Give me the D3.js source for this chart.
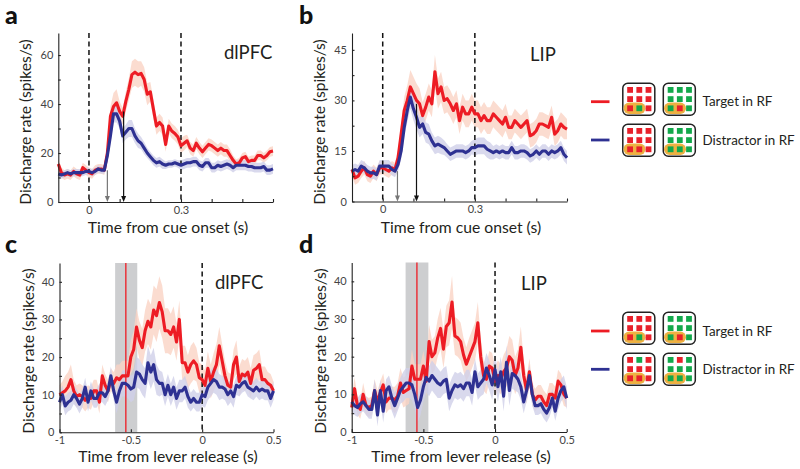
<!DOCTYPE html>
<html><head><meta charset="utf-8">
<script src="https://cdn.jsdelivr.net/npm/d3@7"></script>
<style>
html,body{margin:0;padding:0;background:#fff}
svg{display:block}
text{font-family:"Lato",sans-serif;fill:#231f20}
</style></head><body><svg id="c" width="800" height="469"></svg>
<script>
const aRed=[15.5,12,11,11.5,11,12.5,11.5,11,14,13,
12,11.5,13,13.5,13.5,13,20,35,39,40.5,
37,35,41,46,52,53,52,52.5,50,44,
45,38,31,32.5,31,23.5,31,29,28,26.5,
23,24,25,22,21,24,22,20.5,22,23.5,
23,22,21,22,21,21,19,17,15.5,16,
18,18.5,16.5,17,17,19,19,18,19,20.5,20.8];
const aBlue=[11.5,11,11.5,12,11.5,12,12,12,12,12.5,
12.5,12,12.5,13.5,13,13,19,27,36,36,
33,27,28.5,30,30,27,25,24,22,20,
18.5,17,16,16.5,15.5,15,15.5,15.5,16,15.5,
15,15.5,16,16,16.5,16.5,15,14.5,16,16,
14,14,15,14.5,15,15.5,15,14,15,15,
15,15,14.5,14.5,14,14,14,14.5,13,13,13.5];
const aRedErr=[2,2,2,2,2,2,2,2,2,2,
2,2,2,2,2,2,2.5,4,5.5,5.5,
4,3.5,4,4.5,5.5,5.5,5.5,5,5,4.5,
4,4,3.5,3.5,3.5,3,3,3,3,3,
3,3,2.5,2.5,2.5,2.5,2.5,2.5,2.5,2.5,
2.5,2.5,2.5,2.5,2.5,2.5,2.5,2,2,2,
2,2,2,2,2,2,2,2,2,2,2];
const aBlueErr=[1.5,1.5,1.5,1.5,1.5,1.5,1.5,1.5,1.5,1.5,
1.5,1.5,1.5,1.5,1.5,1.5,2,3,3.5,3.5,
3,3,3,3.5,3.5,3,3,2.5,2.5,2,
2,2,2,2,2,1.5,1.5,1.5,1.5,1.5,
2,2,2,2,2,2,2,2,2,2,
2,2,2,2,2,2,2,2,2,2,
2,2,2,2,2,2,2,2,2,2,2];
const bRed=[9.5,7,7.5,9,10,8,7.5,9,8,10,
10,9.5,9,10,9.5,13,20,27,30,34,
32,30,29,25.5,28,31,29,38.5,32,34,
30,30.5,29,27,29,24,28,26,26,28,
26,26,24,25.5,24,24,26,25,24,23,
25,22,22,24,23,22,23,24,19.5,20,
21,23,23,22.5,22,25,20,21,23,22,21.5];
const bBlue=[9,9.5,9,10.5,10,9,8.5,8.5,8,10.5,
10.5,10.5,10.5,9.5,9,11,15,22,27,31,
27.5,25,22,23,20.5,20,18,16.5,17,16.5,
16,15,14,14.5,15,15,15,14.5,15,16,
16,16.5,16.5,16.5,15.5,15,14.5,15,14.5,15,
14.5,14.5,16,14.5,14.5,15,15,14.5,13.5,14,
15,14,15,15,14,15,14.5,15,16,14,13];
const bRedErr=[2,2,2,2,2,2,2,2,2,2,
2,2,2,2,2,2.5,3,4,4.5,5,
5,5,4.5,4,4,4,4,5,4.5,4.5,
4,4,4,4,4,4,4,4,4,4,
4,4,4,4,4,4,4,4,4,4,
4,3.5,3.5,3.5,3.5,3.5,3.5,3.5,3.5,3.5,
3.5,3.5,3.5,3.5,3.5,3.5,3.5,3.5,3.5,3.5,3];
const bBlueErr=[1.8,1.8,1.8,1.8,1.8,1.8,1.8,1.8,1.8,1.8,
1.8,1.8,1.8,1.8,1.8,2,2.5,3,3.5,3.5,
3.5,3.5,3,3,3,3,2.5,2.5,2.5,2.5,
2.2,2,2,2,2,2,2,2,2,2,
2.5,2.5,2.5,2.5,2.5,2.5,2,2,2,2,
2,2,2,2,2,2,2,2,2,2,
2,2,2,2,2,2,2,2,2,2,2];
const cRed=[10,10.5,11,12,14,11,9.5,10,9.5,8.5,
9.5,9,11,11,8,15,12.5,11,14,13,
14.5,14,15,15,15,20,22,28,24.5,22.5,
27,29.5,28,32.5,31,34.5,32,27,27,26,
28,24,30,18.5,18.5,16,18,19,18,14.5,
14,12.5,17,13.5,16,18,23,19,15,12.5,
12,18,20,13.5,15.5,15,16,13,16.5,17,
18,14,14,13,12.5,11];
const cBlue=[8,10,7,8,8.5,10,9,7.5,9,12,
8,11,9,9,10.5,10.5,9.5,11,15,11,
8,11,13,13,12.5,11.5,12,16,15.5,14,
13,18.5,16,18,14,13,13,10,12.5,10,
12,9,11,11,12,9.5,8,9,8,8,
10,9.5,12,13,14,13.5,12,12,11.5,10,
11,9.5,12.5,12,13,13.5,12,11.5,11,12,
11,11.5,11,11,9,11];
const cRedErr=[2.5,3,4,4,4,3,3,3,3,3,
3,3,3,3,3,3,3,3,3,3,
3.5,4,4,4,4,4.5,5,5,5,5,
5.5,6,6,6.5,7,7,7,6,6,5.5,
5.5,5,5,4.5,4.5,4.5,5,5,4.5,4,
4,4,4.5,4.5,5,5.5,5,4.5,4,3.5,
3.5,4,4.5,4,4,4,4,4,4,4,
4,3.5,3.5,3,3,2.5];
const cBlueErr=[2.5,2.5,2.5,2.5,2.5,2.5,2.5,2.5,2.5,2.5,
2.5,2.5,2.5,2.5,2.5,2.5,2.5,2.5,2.5,2.5,
3,3,3.5,3.5,3.5,3.5,3.5,4,4,4,
4,4.5,4.5,4.5,4,3.5,3,3,3,3,
3,3,3,3,3,3,2.5,2.5,2.5,2.5,
3,3,3.5,3.5,3.5,3.5,3.5,3,3,3,
3,3,2.5,2.5,2.5,2.5,2.5,2.5,2.5,2.5,
2.5,2.5,2.5,2.5,2.5,2.5];
const dRed=[6.5,11.5,7,6,10,7,6.5,7,11,8,
10.5,12.5,8,9,9,8.5,9.5,13,10.5,11,
11.5,17.5,14,14,14,17.5,13.5,24,20,21,
25,27.5,22,28,29,34.5,25.5,25,24,20.5,
18,20,22,24,29,20,15,14,17.5,17,
13.5,15,14,16,17,20,19,15,17,22.5,
15,11,16,10,8.5,9.5,9.5,8,7,10,
10,9,13.5,12.5,10,9];
const dBlue=[8,7,6.5,7.5,8,7,6,6,11,4.5,
11,5.5,11,12,9,7,9,11,12,13,
13,12.5,10,6.5,8.5,12,14.5,13.5,15,14,
13,12.5,13.5,14,9,11,12.5,12,12.5,11.5,
13,13,10.5,16,12,13,14,17,15,12.5,
16.5,12,16,9.5,18.5,11,15.5,15,14,12,
8,11,15,10,7,7,7.5,6,5,6.5,
9,5.5,9,11,12,9];
const dRedErr=[2.5,3,2.5,2.5,3,2.5,2.5,2.5,3,3,
3,3,3,3,3,3.5,3.5,4,4,4,
4,4.5,4,4,4,4,4,4.5,4.5,4.5,
5,5.5,5,5.5,6,7,5,5,5,4.5,
4.5,5,5,5,5.5,5,4,4,4,4,
4,4,4,4.5,5,5.5,5.5,5,5,5.5,
4,3.5,3.5,3,3,3,3,3,3,3,
3,3,3,3,3,2.5];
const dBlueErr=[2.5,2.5,2.5,2.5,2.5,2.5,2.5,2.5,3,3,
3,3,3,3,3.5,3.5,3.5,3.5,4,4,
4,4,4,4,4,4,4,4,4,4,
4,3.5,3.5,3.5,3.5,3.5,3.5,3.5,3.5,3.5,
3.5,3.5,3.5,3.5,3.5,3.5,4,4,4,4,
4,4,4,4,4.5,4,4,4,3.5,3.5,
3,3,3,3,2.5,2.5,2.5,2.5,2.5,2.5,
2.5,2.5,3,3,3,3];
const cueTickLabels=[0,0.3];
const releaseTickLabels=[-1,-0.5,0,0.5];
const legendTexts=["Target in RF","Distractor in RF"];
const RED="#ed1c24",BLUE="#2e3192",REDB="#fad3c4",BLUEB="#cfcfe9",GRN="#12a84b",SRED="#e8202a";

const svg=d3.select("#c");
function panel(o){
  const x=d3.scaleLinear().domain(o.xd).range(o.xr);
  const y=d3.scaleLinear().domain(o.yd).range(o.yr);
  const g=svg.append("g");
  const xs=i=>o.x0+i*o.dx;
  if(o.band){
    g.append("rect").attr("x",x(o.band[0])).attr("width",x(o.band[1])-x(o.band[0]))
     .attr("y",y(o.yd[1])).attr("height",y(0)-y(o.yd[1])).attr("fill","#cdced0");
  }
  function ser(v,e,bc,lc){
    g.append("path").datum(v).attr("fill",bc).attr("fill-opacity",.8)
     .attr("d",d3.area().x((d,i)=>x(xs(i))).y0((d,i)=>y(d-e[i])).y1((d,i)=>y(d+e[i])));
    return ()=>g.append("path").datum(v).attr("fill","none").attr("stroke",lc).attr("stroke-width",3.1)
     .attr("stroke-linejoin","round")
     .attr("d",d3.line().x((d,i)=>x(xs(i))).y(d=>y(d)));
  }
  const d1=ser(o.red,o.redErr,REDB,RED), d2=ser(o.blue,o.blueErr,BLUEB,BLUE);
  if(o.band) g.append("line").attr("x1",x(o.mark)).attr("x2",x(o.mark)).attr("y1",y(o.yd[1])).attr("y2",y(0)).attr("stroke",RED).attr("stroke-width",1.3);
  o.dash.forEach(v=>g.append("line").attr("x1",x(v)).attr("x2",x(v)).attr("y1",y(o.yd[1])).attr("y2",y(0))
    .attr("stroke","#111").attr("stroke-width",1.5).attr("stroke-dasharray","5 3.5"));
  d1();d2();
  (o.arrows||[]).forEach(a=>{
    const px=x(a[0]),t=y(a[1]),b=y(0);
    g.append("line").attr("x1",px).attr("x2",px).attr("y1",t).attr("y2",b-3).attr("stroke",a[2]).attr("stroke-width",1.2);
    g.append("path").attr("d",`M${px-2.5},${b-6}L${px+2.5},${b-6}L${px},${b}Z`).attr("fill",a[2]);
  });
  // axes
  const ax=d3.axisBottom(x).tickValues(o.xminor).tickSizeInner(-3).tickSizeOuter(0).tickFormat(d=>o.xlab.includes(d)?String(d):"");
  const ay=d3.axisLeft(y).tickValues(o.yminor).tickSizeInner(-2.5).tickSizeOuter(0).tickFormat(d=>o.ylab.includes(d)?d:"");
  const gx=g.append("g").attr("transform",`translate(0,${y(0)})`).call(ax);
  const gy=g.append("g").attr("transform",`translate(${x(o.xd[0])},0)`).call(ay);
  [gx,gy].forEach(s=>{s.selectAll("path,line").attr("stroke","#222").attr("stroke-width",1.1);
    s.selectAll("text").attr("font-size",11).style("fill","#444").attr("font-family",'"Lato",sans-serif');});
  gx.selectAll("text").attr("y",4).attr("dy","0.71em");
  gy.selectAll("text").attr("x",-5);
  g.append("text").attr("x",o.xlx).attr("y",o.xly).attr("text-anchor","middle").attr("font-size",15.7).text(o.xlabel);
  g.append("text").attr("transform",`translate(${o.ylx},${o.yly}) rotate(-90)`).attr("text-anchor","middle").attr("font-size",15.6).text("Discharge rate (spikes/s)");
  g.append("text").attr("x",o.t[0]).attr("y",o.t[1]).attr("font-size",18.5).text(o.title);
  g.append("text").attr("x",o.l[0]).attr("y",o.l[1]).attr("font-size",25).attr("font-weight",900).style("fill","#111").text(o.letter);
}
const r=(a,b,s)=>d3.range(0,Math.round((b-a)/s)+1).map(i=>+(a+i*s).toFixed(2));
panel({letter:"a",l:[5,24],title:"dlPFC",t:[224,59],xd:[-0.1,0.6],xr:[58.3,273],yd:[0,69],yr:[202,33],x0:-0.1,dx:0.01,
 red:aRed,blue:aBlue,redErr:aRedErr,blueErr:aBlueErr,dash:[0,0.3],arrows:[[0.06,13,"#777"],[0.113,37,"#111"]],
 xminor:r(0,0.6,0.1),xlab:cueTickLabels,yminor:r(0,60,10),ylab:[0,20,40,60],xlabel:"Time from cue onset (s)",xlx:168,xly:233,ylx:31,yly:122});
panel({letter:"b",l:[299,24],title:"LIP",t:[530,61],xd:[-0.1,0.6],xr:[352,567],yd:[0,50],yr:[201.5,33],x0:-0.1,dx:0.01,
 red:bRed,blue:bBlue,redErr:bRedErr,blueErr:bBlueErr,dash:[0,0.3],arrows:[[0.048,9,"#777"],[0.11,29,"#111"]],
 xminor:r(0,0.6,0.1),xlab:cueTickLabels,yminor:r(0,45,7.5),ylab:[0,15,30,45],xlabel:"Time from cue onset (s)",xlx:461,xly:233,ylx:325,yly:122});
panel({letter:"c",l:[5,253],title:"dlPFC",t:[215,289],xd:[-1,0.5],xr:[59.5,273.5],yd:[0,45],yr:[432.3,263],x0:-1,dx:0.02,
 red:cRed,blue:cBlue,redErr:cRedErr,blueErr:cBlueErr,dash:[0],band:[-0.61,-0.455],mark:-0.535,
 xminor:r(-1,0.5,0.5),xlab:releaseTickLabels,yminor:r(0,40,5),ylab:[0,10,20,30,40],xlabel:"Time from lever release (s)",xlx:168,xly:462,ylx:34,yly:351});
panel({letter:"d",l:[299,253],title:"LIP",t:[521,290],xd:[-1,0.5],xr:[351.7,566.7],yd:[0,45],yr:[432,262.5],x0:-1,dx:0.02,
 red:dRed,blue:dBlue,redErr:dRedErr,blueErr:dBlueErr,dash:[0],band:[-0.624,-0.465],mark:-0.545,
 xminor:r(-1,0.5,0.5),xlab:releaseTickLabels,yminor:r(0,40,5),ylab:[0,10,20,30,40],xlabel:"Time from lever release (s)",xlx:461,xly:462,ylx:326,yly:351});

// legends
const iconRows=[[0,1,2],[0,1,2],[0,1,2]];
function icon(px,py,base,odd,oddRow){
  const g=svg.append("g").attr("transform",`translate(${px},${py})`);
  g.append("rect").attr("x",.8).attr("y",.8).attr("width",32).attr("height",32).attr("rx",5).attr("fill","#fff").attr("stroke","#222").attr("stroke-width",1.5);
  g.append("rect").attr("x",1.5).attr("y",20).attr("width",22).attr("height",11.5).attr("rx",5.7).attr("fill","#eeb142");
  iconRows.forEach((cols,row)=>cols.forEach(c=>{
    const isOdd=row===oddRow&&c===1;
    g.append("rect").attr("x",5.2+c*9.2).attr("y",4.5+row*9.2).attr("width",5.8).attr("height",5.8).attr("fill",isOdd?odd:base);
  }));
}
function legend(y1,y2,lr1,lr2,secondOddRow){
  [[lr1,RED],[lr2,BLUE]].forEach(d=>svg.append("line").attr("x1",591).attr("x2",609.5).attr("y1",d[0]).attr("y2",d[0]).attr("stroke",d[1]).attr("stroke-width",2.8));
  icon(622,y1,SRED,GRN,2);icon(662.5,y1,GRN,SRED,2);
  icon(622,y2,SRED,GRN,secondOddRow);icon(662.5,y2,GRN,SRED,secondOddRow);
  svg.append("text").attr("x",702.5).attr("y",lr1+4.5).attr("font-size",13.4).text(legendTexts[0]);
  svg.append("text").attr("x",702.5).attr("y",lr2+4.5).attr("font-size",13.4).text(legendTexts[1]);
}
legend(82.5,123.5,101.7,140,-1);
legend(311.5,352.5,331,369.3,0);
</script></body></html>
